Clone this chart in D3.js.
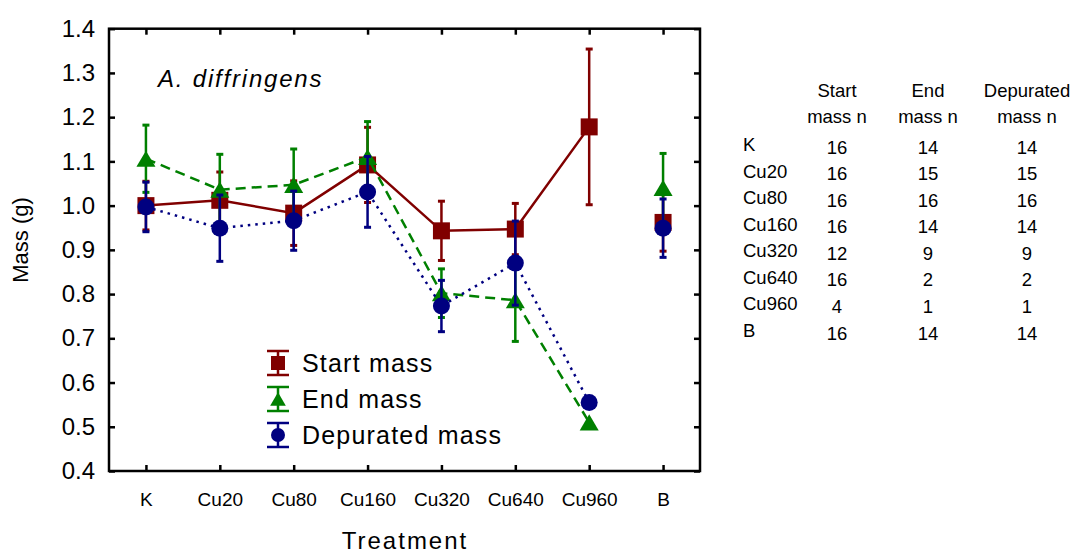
<!DOCTYPE html>
<html>
<head>
<meta charset="utf-8">
<script src="https://cdn.jsdelivr.net/npm/d3@7/dist/d3.min.js"></script>
<style>
  html, body { margin: 0; padding: 0; background: #fff; }
  svg { display: block; font-family: "Liberation Sans", Arial, sans-serif; }
</style>
</head>
<body>
<svg id="chart" width="1077" height="555"></svg>
<script>
// Treatments along the x axis
const categories = ["K", "Cu20", "Cu80", "Cu160", "Cu320", "Cu640", "Cu960", "B"];

// Mean mass (g) and standard error per treatment
const startMean = [1.000, 1.012, 0.983, 1.092, 0.943, 0.947, 1.178, 0.962];
const startSE   = [0.055, 0.064, 0.073, 0.085, 0.067, 0.058, 0.176, 0.065];
const endMean   = [1.106, 1.036, 1.047, 1.110, 0.802, 0.786, 0.510, 1.040];
const endSE     = [0.076, 0.080, 0.081, 0.080, 0.055, 0.093, 0,     0.078];
const depMean   = [0.997, 0.949, 0.966, 1.031, 0.773, 0.870, 0.555, 0.949];
const depSE     = [0.056, 0.075, 0.067, 0.080, 0.058, 0.095, 0,     0.066];

// Sample sizes for the side table
const startN = [16, 16, 16, 16, 12, 16, 4, 16];
const endN   = [14, 15, 16, 14, 9, 2, 1, 14];
const depN   = [14, 15, 16, 14, 9, 2, 1, 14];

const yTicks = [0.4, 0.5, 0.6, 0.7, 0.8, 0.9, 1.0, 1.1, 1.2, 1.3, 1.4];
const speciesLabel = "A. diffringens";

// The last treatment (B) is a reference group and is not joined to the dose series
const connectedCount = 7;

const series = [
  { name: "Start mass", mean: startMean, se: startSE, color: "#800000", shape: "square", dash: null },
  { name: "End mass", mean: endMean, se: endSE, color: "#008000", shape: "triangle", dash: "10,6" },
  { name: "Depurated mass", mean: depMean, se: depSE, color: "#000080", shape: "circle", dash: "2.5,5" }
];

const svg = d3.select("#chart");
const plot = { left: 109, top: 28.7, right: 700, bottom: 471 };

const x = d3.scalePoint().domain(categories).range([plot.left, plot.right]).padding(0.5);
const y = d3.scaleLinear().domain([0.4, 1.4]).range([plot.bottom, plot.top]);

// Marker shapes centred on (0,0)
function markerPath(shape, s) {
  if (shape === "square") {
    return `M${-s / 2},${-s / 2}H${s / 2}V${s / 2}H${-s / 2}Z`;
  }
  if (shape === "triangle") {
    const w = s * 1.12, h = s * 0.95;
    return `M0,${-h / 2}L${w / 2},${h / 2}L${-w / 2},${h / 2}Z`;
  }
  const r = s / 2;
  return `M${r},0A${r},${r} 0 1,1 ${-r},0A${r},${r} 0 1,1 ${r},0Z`;
}

// Frame with inward ticks on all four sides
const axes = svg.append("g");
const tickLen = 6;
axes.append("g")
  .attr("transform", `translate(0,${plot.bottom})`)
  .call(d3.axisBottom(x).tickSizeInner(-tickLen).tickSizeOuter(0).tickPadding(22))
  .call(g => g.select(".domain").remove())
  .call(g => g.selectAll("text").attr("font-size", 19).attr("fill", "#000")
    .attr("font-family", "Liberation Sans, Arial, sans-serif"));
axes.append("g")
  .attr("transform", `translate(0,${plot.top})`)
  .call(d3.axisTop(x).tickSizeInner(-tickLen).tickSizeOuter(0).tickFormat(""))
  .call(g => g.select(".domain").remove());
axes.append("g")
  .attr("transform", `translate(${plot.left},0)`)
  .call(d3.axisLeft(y).tickValues(yTicks).tickFormat(d3.format(".1f"))
    .tickSizeInner(-tickLen).tickSizeOuter(0).tickPadding(14))
  .call(g => g.select(".domain").remove())
  .call(g => g.selectAll("text").attr("font-size", 24).attr("fill", "#000")
    .attr("font-family", "Liberation Sans, Arial, sans-serif"));
axes.append("g")
  .attr("transform", `translate(${plot.right},0)`)
  .call(d3.axisRight(y).tickValues(yTicks).tickFormat("")
    .tickSizeInner(-tickLen).tickSizeOuter(0))
  .call(g => g.select(".domain").remove());
axes.selectAll(".tick line").attr("stroke", "#000").attr("stroke-width", 2.5);
axes.append("rect")
  .attr("x", plot.left).attr("y", plot.top)
  .attr("width", plot.right - plot.left).attr("height", plot.bottom - plot.top)
  .attr("fill", "none").attr("stroke", "#000").attr("stroke-width", 2.5);

// Axis titles
svg.append("text")
  .attr("x", 405).attr("y", 549)
  .attr("text-anchor", "middle")
  .attr("font-size", 24).attr("letter-spacing", 2)
  .text("Treatment");
svg.append("text")
  .attr("transform", "translate(28,240) rotate(-90)")
  .attr("text-anchor", "middle")
  .attr("font-size", 22)
  .text("Mass (g)");

// Species label inside the plot
svg.append("text")
  .attr("x", 158).attr("y", 87)
  .attr("font-size", 24).attr("font-style", "italic").attr("letter-spacing", 1.8)
  .text(speciesLabel);

// Series: connecting line, error bars, markers
const capHalf = 3.5;
series.forEach(s => {
  const g = svg.append("g");
  const pts = categories.map((c, i) => ({ c, m: s.mean[i], e: s.se[i] }));

  const line = d3.line().x(d => x(d.c)).y(d => y(d.m));
  g.append("path")
    .datum(pts.slice(0, connectedCount))
    .attr("d", line)
    .attr("fill", "none")
    .attr("stroke", s.color)
    .attr("stroke-width", 2.5)
    .attr("stroke-dasharray", s.dash);

  const bars = g.selectAll(".err").data(pts.filter(d => d.e > 0)).join("g");
  bars.append("line")
    .attr("x1", d => x(d.c)).attr("x2", d => x(d.c))
    .attr("y1", d => y(d.m + d.e)).attr("y2", d => y(d.m - d.e))
    .attr("stroke", s.color).attr("stroke-width", 2.5);
  [1, -1].forEach(sign => {
    bars.append("line")
      .attr("x1", d => x(d.c) - capHalf).attr("x2", d => x(d.c) + capHalf)
      .attr("y1", d => y(d.m + sign * d.e)).attr("y2", d => y(d.m + sign * d.e))
      .attr("stroke", s.color).attr("stroke-width", 3);
  });

  g.selectAll(".mk").data(pts).join("path")
    .attr("transform", d => `translate(${x(d.c)},${y(d.m)})`)
    .attr("d", markerPath(s.shape, 17))
    .attr("fill", s.color);
});

// Legend with error-bar icons
const legend = svg.append("g");
const legendRows = [363, 399, 435];
series.forEach((s, i) => {
  const cy = legendRows[i];
  const lx = 278;
  const g = legend.append("g").attr("transform", `translate(${lx},${cy})`);
  g.append("line").attr("x1", 0).attr("x2", 0).attr("y1", -12).attr("y2", 12)
    .attr("stroke", s.color).attr("stroke-width", 2.5);
  [-12, 12].forEach(dy => g.append("line")
    .attr("x1", -11).attr("x2", 11).attr("y1", dy).attr("y2", dy)
    .attr("stroke", s.color).attr("stroke-width", 2.5));
  g.append("path").attr("d", markerPath(s.shape, 14)).attr("fill", s.color);
  legend.append("text")
    .attr("x", 302).attr("y", cy + 9)
    .attr("font-size", 25).attr("letter-spacing", 1.2)
    .text(s.name);
});

// Sample-size table
const table = svg.append("g").attr("font-size", 18.5);
const colX = [837, 928, 1027];
const headers = [["Start", "mass n"], ["End", "mass n"], ["Depurated", "mass n"]];
headers.forEach((h, j) => {
  h.forEach((t, k) => table.append("text")
    .attr("x", colX[j]).attr("y", 97 + k * 26)
    .attr("text-anchor", "middle").text(t));
});
const rowY = d3.scaleLinear().domain([0, categories.length - 1]).range([151, 337]);
categories.forEach((c, i) => {
  table.append("text").attr("x", 743).attr("y", rowY(i)).text(c);
  [startN, endN, depN].forEach((arr, j) => table.append("text")
    .attr("x", colX[j]).attr("y", rowY(i) + 2.5)
    .attr("text-anchor", "middle").text(arr[i]));
});
</script>
</body>
</html>
